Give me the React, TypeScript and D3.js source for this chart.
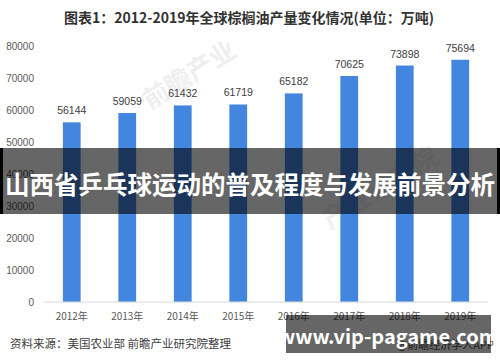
import React from 'react';
import * as d3 from 'd3';

// 数据
const years = ['2012年', '2013年', '2014年', '2015年', '2016年', '2017年', '2018年', '2019年'];
const output = [56144, 59059, 61432, 61719, 65182, 70625, 73898, 75694];
const yTicks = [0, 10000, 20000, 30000, 40000, 50000, 60000, 70000, 80000];

const title = '图表1：2012-2019年全球棕榈油产量变化情况(单位：万吨)';
const banner = '山西省乒乓球运动的普及程度与发展前景分析';
const source = '资料来源：美国农业部 前瞻产业研究院整理';
const credit = '@前瞻经济学人APP';
const site = 'www.vip-pagame.com';

const W = 500;
const H = 362;
const cjk = '"Noto Sans CJK SC", "Noto Sans", sans-serif';
const num = '"Liberation Sans", Arial, sans-serif';

export default function App() {
  const x = d3.scaleBand<string>()
    .domain(years)
    .range([44, 488])
    .paddingInner(0.68)
    .paddingOuter(0.34);
  const y = d3.scaleLinear().domain([0, 80000]).range([302, 46]);

  return (
    <svg width={W} height={H} style={{ position: 'absolute', left: 0, top: 0, background: '#fff' }}>
      <rect width={W} height={H} fill="#fff" />

      {/* 水印 */}
      <text x={150} y={110} transform="rotate(-32 150 110)" fontFamily={cjk} fontSize={26} fontWeight="bold" fill="#efefef">前瞻产业</text>
      <text x={330} y={230} transform="rotate(-32 330 230)" fontFamily={cjk} fontSize={26} fontWeight="bold" fill="#f1f1f1">产业研究院</text>

      <text x={249} y={23} textAnchor="middle" fontFamily={cjk} fontSize={14} fontWeight="bold" fill="#333">{title}</text>

      {/* y轴标签 */}
      {yTicks.map(t => (
        <text key={t} x={34} y={y(t) + 3.5} textAnchor="end" fontFamily={num} fontSize={10} fill="#595959">{t}</text>
      ))}

      {/* 柱子 */}
      {output.map((v, i) => (
        <g key={years[i]}>
          <rect x={x(years[i])!} y={y(v)} width={x.bandwidth()} height={y(0) - y(v)} fill="#4286df" />
          <text x={x(years[i])! + x.bandwidth() / 2} y={y(v) - 8} textAnchor="middle" fontFamily={num} fontSize={10.5} fill="#404040">{v}</text>
        </g>
      ))}

      <line x1={44} x2={488} y1={y(0)} y2={y(0)} stroke="#d9d9d9" strokeWidth={1} />

      {years.map(yr => (
        <text key={yr} x={x(yr)! + x.bandwidth() / 2} y={320} textAnchor="middle" fontFamily={cjk} fontSize={10} fill="#595959">{yr}</text>
      ))}

      <text x={10} y={348} fontFamily={cjk} fontSize={11.5} fill="#404040">{source}</text>
      <text x={494} y={349} textAnchor="end" fontFamily={cjk} fontSize={11} fill="#555">{credit}</text>

      {/* 遮盖横幅 */}
      <rect x={0} y={148} width={W} height={66} fill="rgba(0,0,0,0.6)" />
      <rect x={0} y={148} width={3} height={66} fill="#000" />
      <rect x={497} y={148} width={3} height={66} fill="#000" />
      <text x={250} y={194} textAnchor="middle" fontFamily={cjk} fontSize={24.5} fontWeight="bold" fill="#fff">{banner}</text>

      <rect x={286} y={315} width={205} height={38} fill="rgba(0,0,0,0.6)" />
      <text x={388} y={344} textAnchor="middle" fontFamily={cjk} fontSize={20} fontWeight="bold" fill="#fff">{site}</text>
    </svg>
  );
}
